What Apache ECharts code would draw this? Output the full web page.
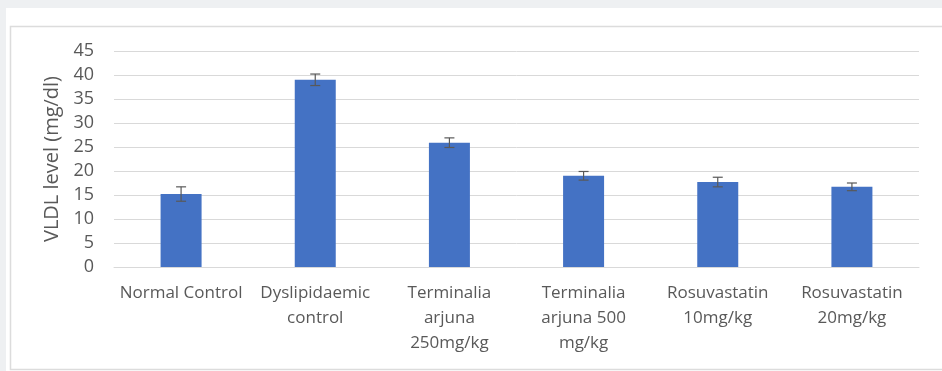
<!DOCTYPE html>
<html>
<head>
<meta charset="utf-8">
<script src="https://cdn.jsdelivr.net/npm/echarts@6/dist/echarts.min.js"></script>
<style>
html,body{margin:0;padding:0;background:#eef0f2;}
#chart{width:942px;height:371px;}
</style>
</head>
<body>
<div id="chart"></div>
<script>
var categories = ["Normal Control", "Dyslipidaemic\ncontrol", "Terminalia\narjuna\n250mg/kg", "Terminalia\narjuna 500\nmg/kg", "Rosuvastatin\n10mg/kg", "Rosuvastatin\n20mg/kg"];
var values = [15.2, 39.0, 25.9, 19.0, 17.7, 16.7];
var errors = [1.5, 1.2, 1.0, 0.9, 1.0, 0.8];
var yTicks = [0, 5, 10, 15, 20, 25, 30, 35, 40, 45];

var chart = echarts.init(document.getElementById('chart'));
var font = '"Open Sans", sans-serif';
chart.setOption({
  backgroundColor: '#eef0f2',
  animation: false,
  graphic: [
    {type: 'rect', shape: {x: 6, y: 8, width: 936, height: 363}, style: {fill: '#ffffff'}, z: -10},
    {type: 'rect', shape: {x: 10.5, y: 26.5, width: 940, height: 343}, style: {fill: 'none', stroke: '#dcdcdc', lineWidth: 1.5}, z: -9}
  ],
  grid: {left: 114, right: 23, top: 51, bottom: 104, containLabel: false},
  xAxis: {
    type: 'category',
    data: categories,
    axisTick: {show: false},
    axisLine: {lineStyle: {color: '#d9d9d9'}},
    axisLabel: {color: '#595959', fontSize: 17, fontFamily: font, lineHeight: 25, margin: 14, interval: 0}
  },
  yAxis: {
    type: 'value',
    min: 0, max: 45, interval: 5,
    name: 'VLDL level (mg/dl)',
    nameLocation: 'middle',
    nameGap: 50,
    nameTextStyle: {color: '#595959', fontSize: 20, fontFamily: font},
    axisLine: {show: false},
    axisTick: {show: false},
    axisLabel: {color: '#595959', fontSize: 18, fontFamily: font, margin: 20,
      formatter: function (v) { return yTicks.indexOf(v) >= 0 ? String(v) : ''; }},
    splitLine: {lineStyle: {color: '#d9d9d9', width: 1}}
  },
  series: [
    {
      type: 'bar',
      data: values,
      barWidth: 41,
      itemStyle: {color: '#4472c4'}
    },
    {
      type: 'custom',
      data: values.map(function (v, i) { return [i, v - errors[i], v + errors[i]]; }),
      renderItem: function (params, api) {
        var lo = api.coord([api.value(0), api.value(1)]);
        var hi = api.coord([api.value(0), api.value(2)]);
        var hw = 5;
        var st = {stroke: '#595959', lineWidth: 1.2};
        return {type: 'group', children: [
          {type: 'line', shape: {x1: lo[0], y1: lo[1], x2: hi[0], y2: hi[1]}, style: st},
          {type: 'line', shape: {x1: lo[0] - hw, y1: lo[1], x2: lo[0] + hw, y2: lo[1]}, style: st},
          {type: 'line', shape: {x1: hi[0] - hw, y1: hi[1], x2: hi[0] + hw, y2: hi[1]}, style: st}
        ]};
      },
      z: 10
    }
  ]
});
</script>
</body>
</html>
